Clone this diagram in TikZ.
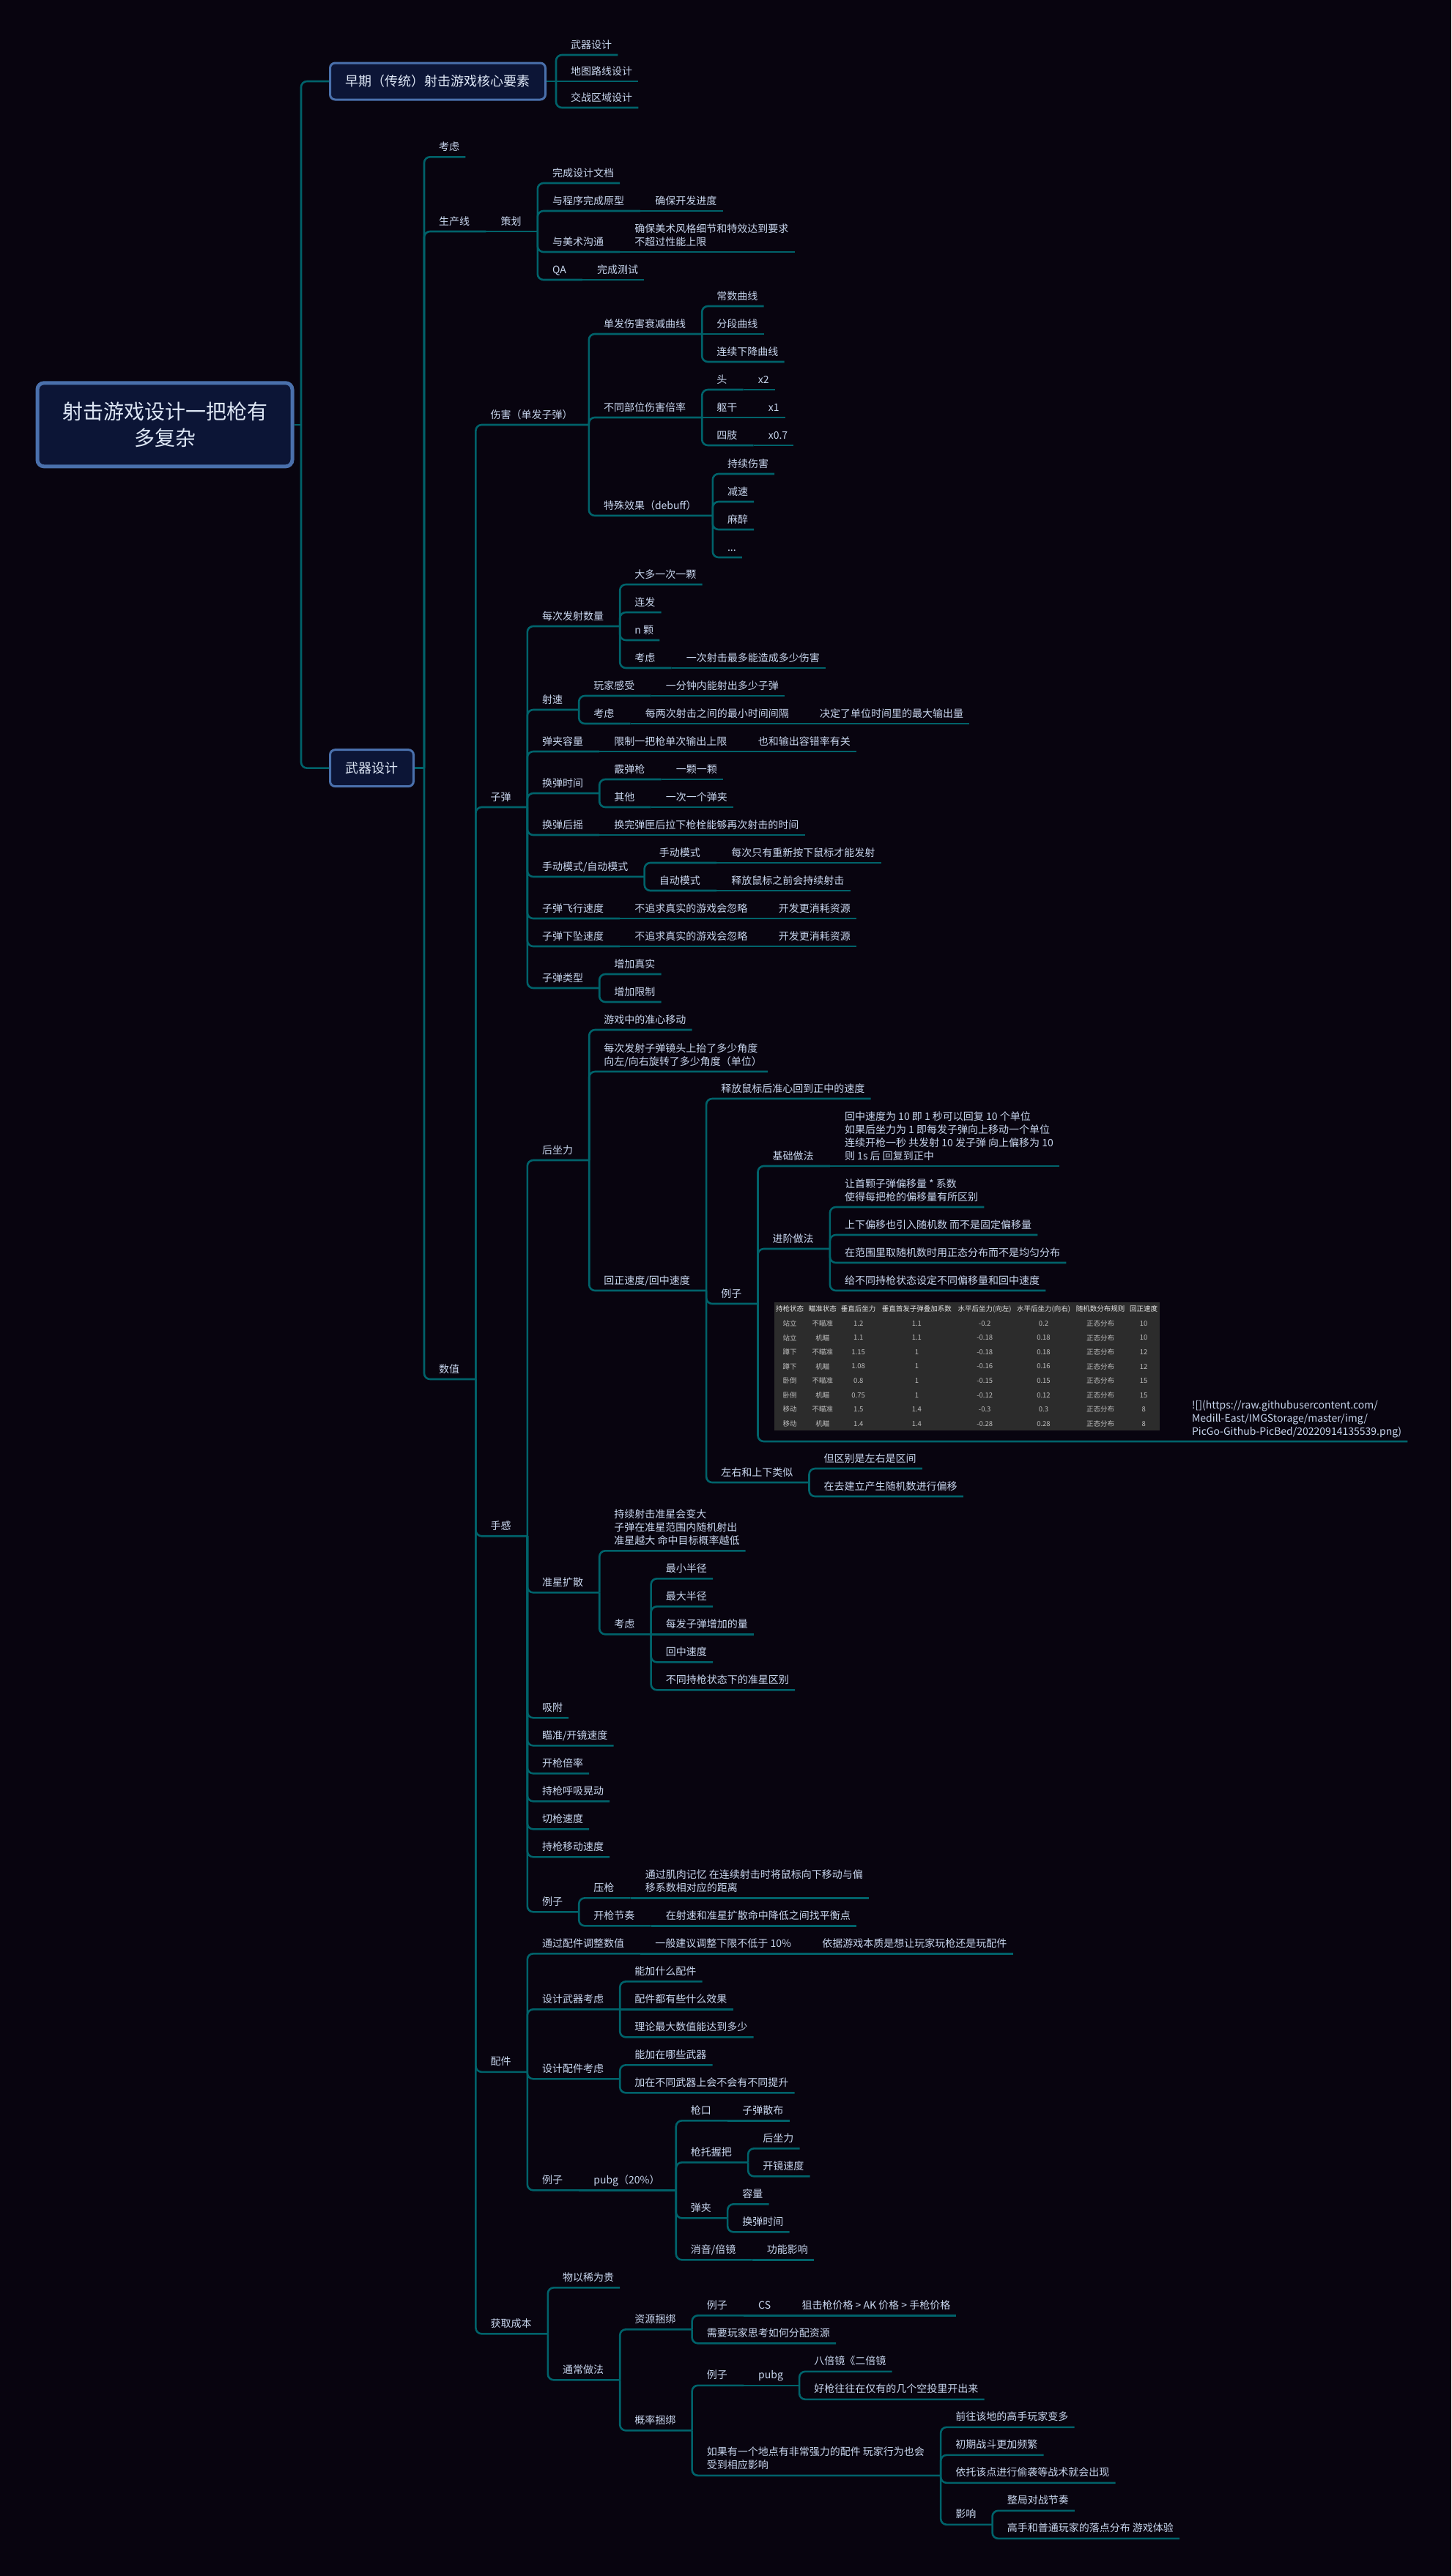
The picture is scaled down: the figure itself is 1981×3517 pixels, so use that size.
\documentclass[tikz,border=0pt]{standalone}
\usepackage{fontspec}
\setmainfont{Noto Sans CJK SC}
\usetikzlibrary{calc}
\definecolor{bgc}{HTML}{08040F}
\definecolor{lnc}{HTML}{00626A}
\definecolor{txc}{HTML}{C8D6EE}
\definecolor{boxf}{HTML}{0C1536}
\definecolor{boxd}{HTML}{4A70AC}
\definecolor{tblf}{HTML}{2C2C2C}
\definecolor{tbh}{HTML}{E2E2E2}
\definecolor{tbd}{HTML}{BDBDBD}
\newcommand\mystrut{\rule[-4pt]{0pt}{14pt}}
% curved child: parent, name, y, end gap, text
\newcommand\tcv[5]{%
  \node[tx] (#2) at ($(#1-e |- 0,#3)+(20pt,4.7pt)$) {#5\mystrut};
  \coordinate (#2-e) at ($(#2.south east)+(#4pt,-4.7pt)$);
  \draw[ln] (#1-e) |- (#2-e);
}
% straight child (same y as parent): parent, name, end gap, text
\newcommand\tst[4]{%
  \node[tx] (#2) at ($(#1-e)+(20pt,4.7pt)$) {#4\mystrut};
  \coordinate (#2-e) at ($(#2.south east)+(#3pt,-4.7pt)$);
  \draw[ln] (#1-e) -- (#2-e);
}
\newcommand\tabrow[9]{%
  \foreach \cx/\ct [count=\k] in {21.7/{#2},66.3/{#3},115.2/{#4},194.9/{#5},287.7/{#6},368/{#7},445.5/{#8},504.7/{#9}}
    \node[tcell] (tc#1x\k) at ($(tbl.north west)+(\cx,{9.7+19.57*#1})$) {\ct};
}
\begin{document}
\begin{tikzpicture}[x=1pt,y=-1pt,
  ln/.style={draw=lnc,line width=2.6pt,rounded corners=8pt},
  tx/.style={anchor=south west,inner sep=0pt,align=left,font=\fontsize{14}{18}\selectfont,text=txc},
  box/.style={fill=boxf,draw=boxd,line width=3pt,rounded corners=7pt,minimum height=50pt,inner xsep=21pt,inner ysep=0pt,font=\fontsize{18}{22}\selectfont,text=txc!60!white},
  rootbox/.style={fill=boxf,draw=boxd,line width=5pt,rounded corners=9pt,minimum width=348pt,minimum height=114pt,align=center,font=\fontsize{28}{36}\selectfont,text=txc!60!white},
  tblbox/.style={fill=tblf,draw=none,minimum width=526pt,minimum height=175pt,inner sep=0pt,anchor=south west},
  tcell/.style={inner sep=0pt,font=\fontsize{9.5}{11}\selectfont,text=tbd},
  thead/.style={tcell,text=tbh}]
\fill[bgc] (0,0) rectangle (1981,3517);
\useasboundingbox (0,0) rectangle (1981,3517);

% root
\node[rootbox] (root) at (225,579.8) {射击游戏设计一把枪有\\多复杂};
\coordinate (root-e) at (411,579.8);
\draw[ln] (root.east) -- (root-e);

% first box
\node[box,anchor=west] (zq) at (449,111) {早期（传统）射击游戏核心要素};
\coordinate (zq-e) at ($(zq.east)+(13pt,0)$);
\draw[ln] (root-e) |- (zq.west);
\draw[ln] (zq.east) -- (zq-e);
\tcv{zq}{zq1}{75}{8}{武器设计}
\tst{zq}{zq2}{8}{地图路线设计}
\tcv{zq}{zq3}{147}{8}{交战区域设计}

% second box
\node[box,anchor=west] (wq) at (449,1048.65) {武器设计};
\coordinate (wq-e) at ($(wq.east)+(13pt,0)$);
\draw[ln] (root-e) |- (wq.west);
\draw[ln] (wq.east) -- (wq-e);

\tcv{wq}{kl}{214.3}{8}{考虑}
\tcv{wq}{scx}{316}{22}{生产线}
\tst{scx}{ch}{22}{策划}
\tcv{ch}{ch1}{250}{8}{完成设计文档}
\tcv{ch}{ch2}{288}{22}{与程序完成原型}
\tst{ch2}{ch2a}{8}{确保开发进度}
\tcv{ch}{ch3}{344}{22}{与美术沟通}
\tst{ch3}{ch3a}{8}{确保美术风格细节和特效达到要求\\不超过性能上限}
\tcv{ch}{ch4}{382}{22}{QA}
\tst{ch4}{ch4a}{8}{完成测试}

\tcv{wq}{sz}{1883}{22}{数值}

% 伤害
\tcv{sz}{sh}{580}{22}{伤害（单发子弹）}
\tcv{sh}{sh1}{456}{22}{单发伤害衰减曲线}
\tcv{sh1}{sh1a}{418}{8}{常数曲线}
\tst{sh1}{sh1b}{8}{分段曲线}
\tcv{sh1}{sh1c}{494}{8}{连续下降曲线}
\tcv{sh}{sh2}{570}{22}{不同部位伤害倍率}
\tcv{sh2}{sh2a}{532}{22}{头}
\tst{sh2a}{sh2ax}{8}{x2}
\tst{sh2}{sh2b}{22}{躯干}
\tst{sh2b}{sh2bx}{8}{x1}
\tcv{sh2}{sh2c}{608}{22}{四肢}
\tst{sh2c}{sh2cx}{8}{x0.7}
\tcv{sh}{sh3}{704}{22}{特殊效果（debuff）}
\tcv{sh3}{sh3a}{647}{8}{持续伤害}
\tcv{sh3}{sh3b}{685}{8}{减速}
\tcv{sh3}{sh3c}{723}{8}{麻醉}
\tcv{sh3}{sh3d}{761}{8}{...}

% 子弹
\tcv{sz}{zd}{1102}{22}{子弹}
\tcv{zd}{zd1}{855}{22}{每次发射数量}
\tcv{zd1}{zd1a}{798}{8}{大多一次一颗}
\tcv{zd1}{zd1b}{836}{8}{连发}
\tcv{zd1}{zd1c}{874}{8}{n 颗}
\tcv{zd1}{zd1d}{912}{22}{考虑}
\tst{zd1d}{zd1e}{8}{一次射击最多能造成多少伤害}
\tcv{zd}{zd2}{969}{22}{射速}
\tcv{zd2}{zd2a}{950}{22}{玩家感受}
\tst{zd2a}{zd2b}{8}{一分钟内能射出多少子弹}
\tcv{zd2}{zd2c}{988}{22}{考虑}
\tst{zd2c}{zd2d}{22}{每两次射击之间的最小时间间隔}
\tst{zd2d}{zd2e}{8}{决定了单位时间里的最大输出量}
\tcv{zd}{zd3}{1026}{22}{弹夹容量}
\tst{zd3}{zd3a}{22}{限制一把枪单次输出上限}
\tst{zd3a}{zd3b}{8}{也和输出容错率有关}
\tcv{zd}{zd4}{1083}{22}{换弹时间}
\tcv{zd4}{zd4a}{1064}{22}{霰弹枪}
\tst{zd4a}{zd4b}{8}{一颗一颗}
\tcv{zd4}{zd4c}{1102}{22}{其他}
\tst{zd4c}{zd4d}{8}{一次一个弹夹}
\tcv{zd}{zd5}{1140}{22}{换弹后摇}
\tst{zd5}{zd5a}{8}{换完弹匣后拉下枪栓能够再次射击的时间}
\tcv{zd}{zd6}{1197}{22}{手动模式/自动模式}
\tcv{zd6}{zd6a}{1178}{22}{手动模式}
\tst{zd6a}{zd6b}{8}{每次只有重新按下鼠标才能发射}
\tcv{zd6}{zd6c}{1216}{22}{自动模式}
\tst{zd6c}{zd6d}{8}{释放鼠标之前会持续射击}
\tcv{zd}{zd7}{1254}{22}{子弹飞行速度}
\tst{zd7}{zd7a}{22}{不追求真实的游戏会忽略}
\tst{zd7a}{zd7b}{8}{开发更消耗资源}
\tcv{zd}{zd8}{1292}{22}{子弹下坠速度}
\tst{zd8}{zd8a}{22}{不追求真实的游戏会忽略}
\tst{zd8a}{zd8b}{8}{开发更消耗资源}
\tcv{zd}{zd9}{1349}{22}{子弹类型}
\tcv{zd9}{zd9a}{1330}{8}{增加真实}
\tcv{zd9}{zd9b}{1368}{8}{增加限制}

% 手感
\tcv{sz}{sg}{2097.2}{22}{手感}
\tcv{sg}{hz}{1584}{22}{后坐力}
\tcv{hz}{hz1}{1406}{8}{游戏中的准心移动}
\tcv{hz}{hz2}{1463}{8}{每次发射子弹镜头上抬了多少角度\\向左/向右旋转了多少角度（单位）}
\tcv{hz}{hz3}{1762}{22}{回正速度/回中速度}
\tcv{hz3}{hz3a}{1500}{8}{释放鼠标后准心回到正中的速度}
\tcv{hz3}{ex}{1780}{22}{例子}
\tcv{ex}{ex1}{1592}{22}{基础做法}
\tst{ex1}{ex1a}{8}{回中速度为 10 即 1 秒可以回复 10 个单位\\如果后坐力为 1 即每发子弹向上移动一个单位\\连续开枪一秒 共发射 10 发子弹 向上偏移为 10\\则 1s 后 回复到正中}
\tcv{ex}{ex2}{1705}{22}{进阶做法}
\tcv{ex2}{ex2a}{1648}{8}{让首颗子弹偏移量 * 系数\\使得每把枪的偏移量有所区别}
\tcv{ex2}{ex2b}{1686}{8}{上下偏移也引入随机数 而不是固定偏移量}
\tcv{ex2}{ex2c}{1724}{8}{在范围里取随机数时用正态分布而不是均匀分布}
\tcv{ex2}{ex2d}{1762}{8}{给不同持枪状态设定不同偏移量和回中速度}

% table node
\node[tblbox] (tbl) at ($(ex-e |- 0,1968)+(22pt,15pt)$) {};
\foreach \cx/\ct [count=\k] in {21.7/持枪状态,66.3/瞄准状态,115.2/垂直后坐力,194.9/垂直首发子弹叠加系数,287.7/{水平后坐力(向左)},368/{水平后坐力(向右)},445.5/随机数分布规则,504.7/回正速度}
  \node[thead] (th\k) at ($(tbl.north west)+(\cx,9.7)$) {\ct};
\tabrow{1}{站立}{不瞄准}{1.2}{1.1}{-0.2}{0.2}{正态分布}{10}
\tabrow{2}{站立}{机瞄}{1.1}{1.1}{-0.18}{0.18}{正态分布}{10}
\tabrow{3}{蹲下}{不瞄准}{1.15}{1}{-0.18}{0.18}{正态分布}{12}
\tabrow{4}{蹲下}{机瞄}{1.08}{1}{-0.16}{0.16}{正态分布}{12}
\tabrow{5}{卧倒}{不瞄准}{0.8}{1}{-0.15}{0.15}{正态分布}{15}
\tabrow{6}{卧倒}{机瞄}{0.75}{1}{-0.12}{0.12}{正态分布}{15}
\tabrow{7}{移动}{不瞄准}{1.5}{1.4}{-0.3}{0.3}{正态分布}{8}
\tabrow{8}{移动}{机瞄}{1.4}{1.4}{-0.28}{0.28}{正态分布}{8}
\node[tx] (url) at ($(tbl.south east)+(44pt,-10.3pt)$) {![](https://raw.githubusercontent.com/\\Medill-East/IMGStorage/master/img/\\PicGo-Github-PicBed/20220914135539.png)\mystrut};
\coordinate (url-e) at ($(url.south east)+(8pt,-4.7pt)$);
\draw[ln] (ex-e) |- (url-e);

\tcv{hz3}{lr}{2024}{22}{左右和上下类似}
\tcv{lr}{lr1}{2005}{8}{但区别是左右是区间}
\tcv{lr}{lr2}{2043}{8}{在去建立产生随机数进行偏移}

\tcv{sg}{zx}{2174.3}{22}{准星扩散}
\tcv{zx}{zx1}{2117.3}{8}{持续射击准星会变大\\子弹在准星范围内随机射出\\准星越大 命中目标概率越低}
\tcv{zx}{zx2}{2231.3}{22}{考虑}
\tcv{zx2}{zx2a}{2155.3}{8}{最小半径}
\tcv{zx2}{zx2b}{2193.3}{8}{最大半径}
\tst{zx2}{zx2c}{8}{每发子弹增加的量}
\tcv{zx2}{zx2d}{2269.3}{8}{回中速度}
\tcv{zx2}{zx2e}{2307.3}{8}{不同持枪状态下的准星区别}
\tcv{sg}{xf}{2345.3}{8}{吸附}
\tcv{sg}{mz}{2383.3}{8}{瞄准/开镜速度}
\tcv{sg}{kq}{2421.3}{8}{开枪倍率}
\tcv{sg}{hx}{2459.3}{8}{持枪呼吸晃动}
\tcv{sg}{qq}{2497.3}{8}{切枪速度}
\tcv{sg}{yd}{2535.3}{8}{持枪移动速度}
\tcv{sg}{sl}{2610.3}{22}{例子}
\tcv{sl}{sl1}{2591.3}{22}{压枪}
\tst{sl1}{sl1a}{8}{通过肌肉记忆 在连续射击时将鼠标向下移动与偏\\移系数相对应的距离}
\tcv{sl}{sl2}{2629.3}{22}{开枪节奏}
\tst{sl2}{sl2a}{8}{在射速和准星扩散命中降低之间找平衡点}

% 配件
\tcv{sz}{pj}{2828.8}{22}{配件}
\tcv{pj}{pj1}{2667.3}{22}{通过配件调整数值}
\tst{pj1}{pj1a}{22}{一般建议调整下限不低于 10\%}
\tst{pj1a}{pj1b}{8}{依据游戏本质是想让玩家玩枪还是玩配件}
\tcv{pj}{pj2}{2743.3}{22}{设计武器考虑}
\tcv{pj2}{pj2a}{2705.3}{8}{能加什么配件}
\tst{pj2}{pj2b}{8}{配件都有些什么效果}
\tcv{pj2}{pj2c}{2781.3}{8}{理论最大数值能达到多少}
\tcv{pj}{pj3}{2838.3}{22}{设计配件考虑}
\tcv{pj3}{pj3a}{2819.3}{8}{能加在哪些武器}
\tcv{pj3}{pj3b}{2857.3}{8}{加在不同武器上会不会有不同提升}
\tcv{pj}{pj4}{2990.3}{22}{例子}
\tst{pj4}{pb}{22}{pubg（20\%）}
\tcv{pb}{pb1}{2895.3}{22}{枪口}
\tst{pb1}{pb1a}{8}{子弹散布}
\tcv{pb}{pb2}{2952.3}{22}{枪托握把}
\tcv{pb2}{pb2a}{2933.3}{8}{后坐力}
\tcv{pb2}{pb2b}{2971.3}{8}{开镜速度}
\tcv{pb}{pb3}{3028.3}{22}{弹夹}
\tcv{pb3}{pb3a}{3009.3}{8}{容量}
\tcv{pb3}{pb3b}{3047.3}{8}{换弹时间}
\tcv{pb}{pb4}{3085.3}{22}{消音/倍镜}
\tst{pb4}{pb4a}{8}{功能影响}

% 获取成本
\tcv{sz}{hq}{3186.3}{22}{获取成本}
\tcv{hq}{hq1}{3123.3}{8}{物以稀为贵}
\tcv{hq}{hq2}{3249.3}{22}{通常做法}
\tcv{hq2}{zy}{3180.3}{22}{资源捆绑}
\tcv{zy}{zy1}{3161.3}{22}{例子}
\tst{zy1}{zy1a}{22}{CS}
\tst{zy1a}{zy1b}{8}{狙击枪价格 > AK 价格 > 手枪价格}
\tcv{zy}{zy2}{3199.3}{8}{需要玩家思考如何分配资源}
\tcv{hq2}{gl}{3318.3}{22}{概率捆绑}
\tcv{gl}{gl1}{3256.8}{22}{例子}
\tst{gl1}{gl1a}{22}{pubg}
\tcv{gl1a}{gl1b}{3237.8}{8}{八倍镜《二倍镜}
\tcv{gl1a}{gl1c}{3275.8}{8}{好枪往往在仅有的几个空投里开出来}
\tcv{gl}{gl2}{3379.8}{22}{如果有一个地点有非常强力的配件 玩家行为也会\\受到相应影响}
\tcv{gl2}{gl2a}{3313.8}{8}{前往该地的高手玩家变多}
\tcv{gl2}{gl2b}{3351.8}{8}{初期战斗更加频繁}
\tcv{gl2}{gl2c}{3389.8}{8}{依托该点进行偷袭等战术就会出现}
\tcv{gl2}{gl2d}{3446.8}{22}{影响}
\tcv{gl2d}{gl2e}{3427.8}{8}{整局对战节奏}
\tcv{gl2d}{gl2f}{3465.8}{8}{高手和普通玩家的落点分布 游戏体验}
\end{tikzpicture}
\end{document}
